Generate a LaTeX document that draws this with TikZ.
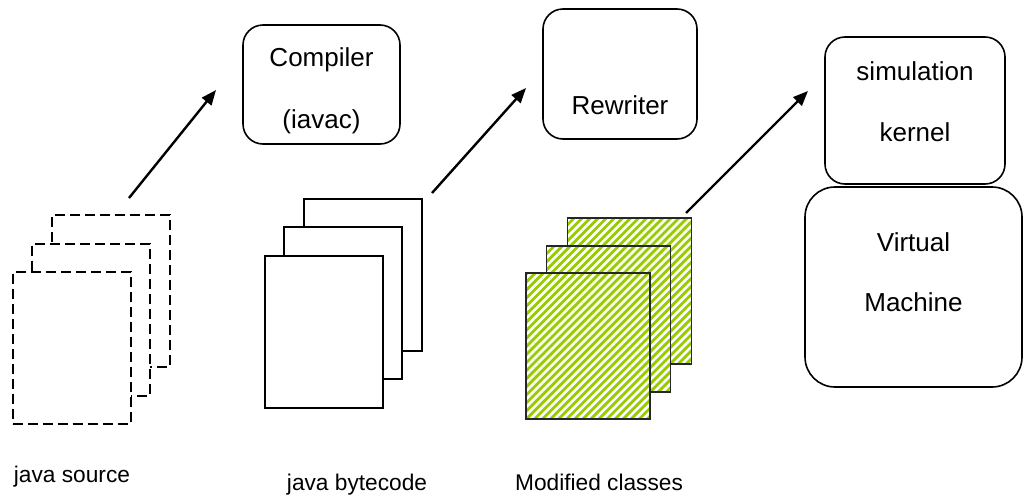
\documentclass[tikz,border=0pt]{standalone}
\usepackage{fontspec}
\setmainfont{Liberation Sans}
\usetikzlibrary{arrows.meta,patterns.meta}
\definecolor{stripegreen}{HTML}{99CC00}
\begin{document}
\begin{tikzpicture}[x=1pt,y=-1pt,
  every node/.style={font=\fontsize{22.7}{27}\selectfont, inner sep=0pt, outer sep=0pt},
  rbox/.style={draw, line width=1.6pt, rounded corners=20pt, fill=white},
  txt/.style={anchor=base},
  btxt/.style={anchor=base, font=\fontsize{26}{30}\selectfont},
  srcpage/.style={draw, dash pattern=on 10pt off 5pt, line width=2pt, fill=white, minimum width=118pt, minimum height=152pt},
  bcpage/.style={draw, line width=1.7pt, fill=white, minimum width=118pt, minimum height=152pt},
  modpage/.style={draw=black!85, line width=1.7pt, preaction={fill=stripegreen}, pattern={Lines[angle=45,distance=5.7pt,line width=2.6pt]}, pattern color=white, minimum width=124pt, minimum height=146pt},
  flow/.style={-{Triangle[length=15pt,width=12pt]}, line width=2.4pt}
]
\useasboundingbox (0,0) rectangle (1024,498);

% java source pages (dashed)
\node[srcpage] (s3) at (111,291) {};
\node[srcpage] (s2) at (91,319.5) {};
\node[srcpage] (s1) at (71.5,347.5) {};

% java bytecode pages
\node[bcpage] (b3) at (363,275) {};
\node[bcpage] (b2) at (343,303) {};
\node[bcpage] (b1) at (324,332) {};

% modified class pages
\node[modpage] (m3) at (629.5,291) {};
\node[modpage] (m2) at (608.5,319) {};
\node[modpage] (m1) at (588,346) {};

% boxes
\node[rbox, minimum width=157pt, minimum height=119pt] (comp) at (321.5,84.5) {};
\node[btxt] (compt1) at (321.5,66) {Compiler};
\node[btxt] (compt2) at (321.5,128) {(iavac)};

\node[rbox, minimum width=154pt, minimum height=130pt] (rew) at (620,74) {};
\node[btxt] (rewt) at (620,114) {Rewriter};

\node[rbox, minimum width=180pt, minimum height=147pt] (sim) at (915,110.5) {};
\node[btxt] (simt1) at (915,80) {simulation};
\node[btxt] (simt2) at (915,141) {kernel};

\node[rbox, rounded corners=30pt, minimum width=217pt, minimum height=200pt] (vm) at (913.5,287) {};
\node[btxt] (vmt1) at (913.5,251) {Virtual};
\node[btxt] (vmt2) at (913.5,311) {Machine};

% labels
\node[txt] (l1) at (72,482) {java source};
\node[txt] (l2) at (357,490) {java bytecode};
\node[txt] (l3) at (599,490) {Modified classes};

% arrows
\coordinate (a1s) at (129,198);
\coordinate (a1e) at (216,90);
\coordinate (a2s) at (432,193);
\coordinate (a2e) at (526,88);
\coordinate (a3s) at (686,213);
\coordinate (a3e) at (808,91);
\draw[flow] (a1s) -- (a1e);
\draw[flow] (a2s) -- (a2e);
\draw[flow] (a3s) -- (a3e);
\end{tikzpicture}
\end{document}
